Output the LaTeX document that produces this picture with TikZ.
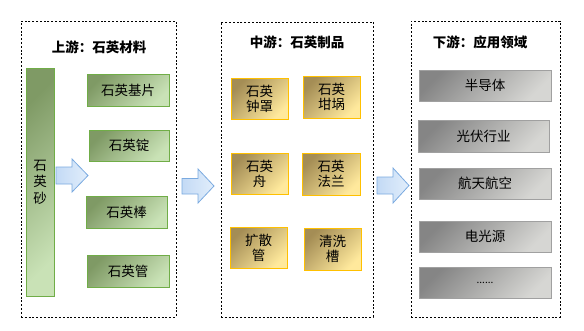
\documentclass[tikz,border=0pt]{standalone}
\usepackage{fontspec}
\setmainfont{Noto Sans CJK SC}
\usetikzlibrary{shapes.arrows}
\definecolor{gDark}{HTML}{7F9A65}
\definecolor{gLight}{HTML}{C9E2B6}
\definecolor{gLine}{HTML}{70AD47}
\definecolor{yDark}{HTML}{A48D55}
\definecolor{yLight}{HTML}{FFE99C}
\definecolor{yLine}{HTML}{FFC000}
\definecolor{kDark}{HTML}{858585}
\definecolor{kLight}{HTML}{D6D6D3}
\definecolor{kLine}{HTML}{A0A0A0}
\definecolor{aFillA}{HTML}{C3DAF5}
\definecolor{aFillB}{HTML}{E2EEFB}
\definecolor{aLine}{HTML}{7AAAE0}
\tikzset{
  frame/.style={draw=black, dash pattern=on 2pt off 1.8pt, line width=0.6pt, inner sep=0pt},
  ttl/.style={font=\fontsize{13.5}{15}\selectfont\bfseries, inner sep=0pt},
  gbox/.style={draw=gLine, line width=0.9pt, top color=gDark, bottom color=gLight, shading angle=45,
    inner sep=0pt, font=\fontsize{13.5}{15}\selectfont, align=center},
  ybox/.style={draw=yLine, line width=0.9pt, top color=yDark, bottom color=yLight, shading angle=45,
    inner sep=0pt, font=\fontsize{13.5}{15}\selectfont, align=center},
  kbox/.style={draw=kLine, line width=0.9pt, top color=kDark, bottom color=kLight, shading angle=45,
    inner sep=0pt, font=\fontsize{13.5}{15}\selectfont, align=center, minimum width=132pt, minimum height=31pt},
  barrow/.style={draw=aLine, line width=0.8pt, left color=aFillA, right color=aFillB},
  sz/.style 2 args={minimum width=#1pt, minimum height=#2pt}
}
\begin{document}
\begin{tikzpicture}[x=1pt,y=-1pt]
\useasboundingbox (0,0) rectangle (584,330);
% frames
\node[frame, sz={155}{296}] (fL) at (98.5,169) {};
\node[frame, sz={152}{295}] (fM) at (297,169.5) {};
\node[frame, sz={149}{296}] (fR) at (485.5,169) {};
% titles
\node[ttl] (tL) at (99,47) {上游：石英材料};
\node[ttl] (tM) at (297,42) {中游：石英制品};
\node[ttl] (tR) at (480,42) {下游：应用领域};
% upstream
\node[gbox, sz={28}{228}, font=\fontsize{13.5}{16.5}\selectfont] (sand) at (40,182) {石\\英\\砂};
\node[gbox, sz={82}{32}] (u1) at (128,90) {石英基片};
\node[gbox, sz={80}{31}] (u2) at (129,145.5) {石英锭};
\node[gbox, sz={81}{32}] (u3) at (126.5,212) {石英棒};
\node[gbox, sz={82}{32}] (u4) at (128,271) {石英管};
% midstream
\node[ybox, sz={57}{41}] (m1) at (259.5,98.5) {石英\\钟罩};
\node[ybox, sz={57}{42}] (m2) at (331.5,97) {石英\\坩埚};
\node[ybox, sz={57}{41}] (m3) at (259.5,173.5) {石英\\舟};
\node[ybox, sz={58}{42}] (m4) at (331,174) {石英\\法兰};
\node[ybox, sz={57}{41}] (m5) at (258.5,247.5) {扩散\\管};
\node[ybox, sz={57}{42}] (m6) at (332.5,249) {清洗\\槽};
% downstream
\node[kbox] (d1) at (485,85.5) {半导体};
\node[kbox, sz={131}{32}] (d2) at (483.5,136) {光伏行业};
\node[kbox] (d3) at (485,183.5) {航天航空};
\node[kbox] (d4) at (485,236.5) {电光源};
\node[kbox] (d5) at (485,282.5) {\fontsize{10}{12}\selectfont ......};
% block arrows
\draw[barrow] (56,167) -- (72,167) -- (72,159) -- (88,175.5) -- (72,192) -- (72,184) -- (56,184) -- cycle;
\draw[barrow] (182,178.5) -- (198,178.5) -- (198,169) -- (214,186) -- (198,203) -- (198,194) -- (182,194) -- cycle;
\draw[barrow] (377,177) -- (393,177) -- (393,168) -- (409,185.5) -- (393,203) -- (393,194) -- (377,194) -- cycle;
\end{tikzpicture}
\end{document}
